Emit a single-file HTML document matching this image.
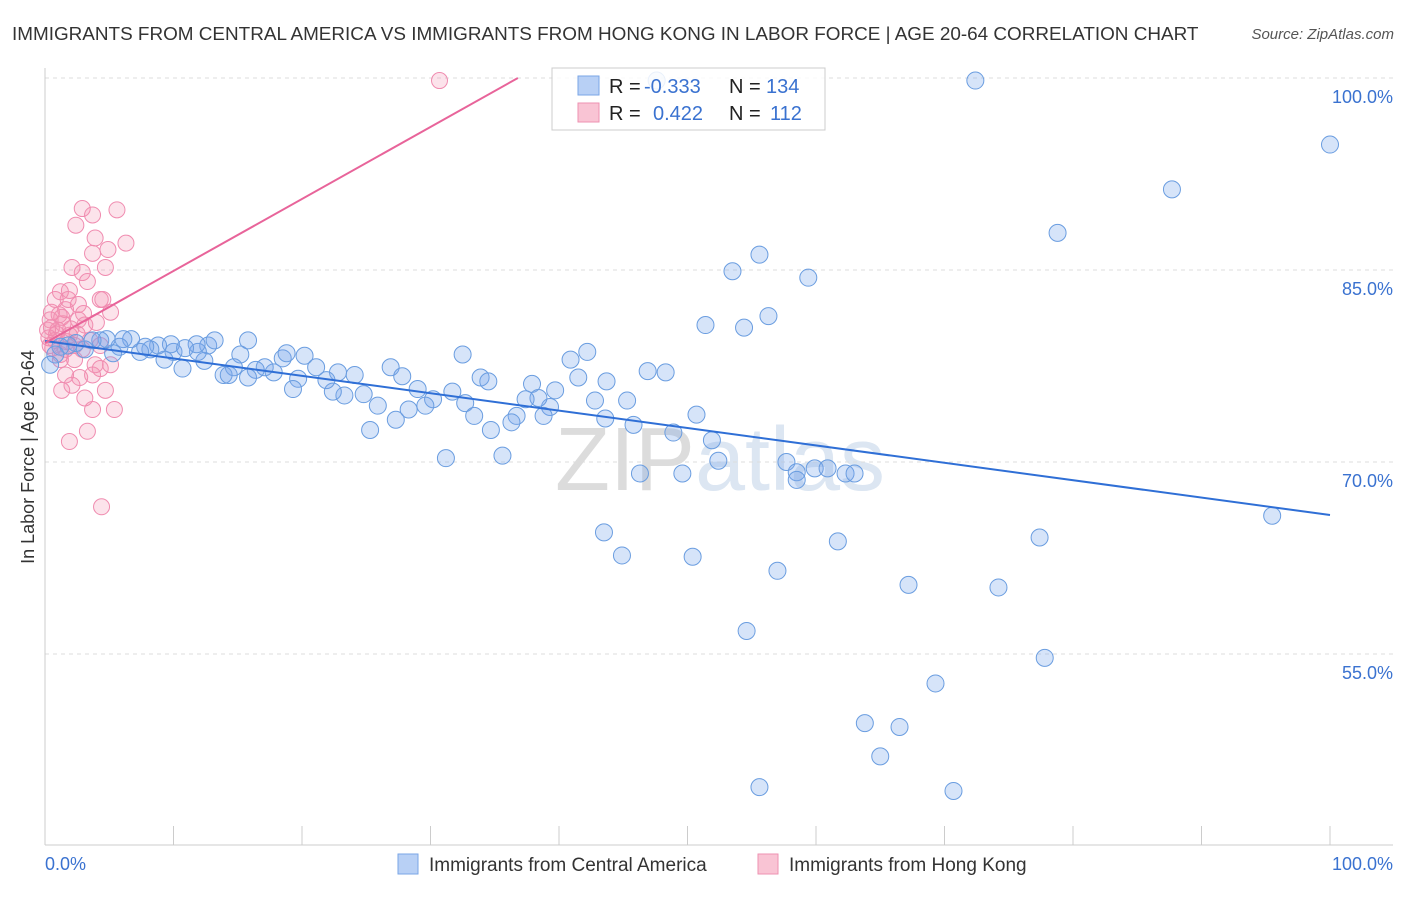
<!DOCTYPE html>
<html><head><meta charset="utf-8"><style>
body{margin:0;background:#fff;font-family:"Liberation Sans",sans-serif;}
svg text{font-family:"Liberation Sans",sans-serif;}
</style></head><body>
<svg id="chart" width="1406" height="892" xmlns="http://www.w3.org/2000/svg">
<text x="12" y="40" font-size="18.9" fill="#333">IMMIGRANTS FROM CENTRAL AMERICA VS IMMIGRANTS FROM HONG KONG IN LABOR FORCE | AGE 20-64 CORRELATION CHART</text>
<text x="1394" y="39" font-size="15" fill="#555" font-style="italic" text-anchor="end">Source: ZipAtlas.com</text>
<text x="720" y="490" font-size="90" fill="#e6e6e6" text-anchor="middle" font-family="Liberation Serif"><tspan fill="#dcdcdc">ZIP</tspan><tspan fill="#dce6f2" font-family="Liberation Sans">atlas</tspan></text>
<g id="grid"></g>
<g id="axes"></g>
<g id="pink"></g>
<g id="blue"></g>
<g id="trends"></g>
<text transform="translate(34,457) rotate(-90)" font-size="18" fill="#333" text-anchor="middle">In Labor Force | Age 20-64</text>
<g>
<rect x="552" y="68" width="273" height="62" fill="#fff" fill-opacity="0.85" stroke="#ccc"/>
<rect x="578" y="76" width="21" height="19" fill="#b8d0f5" stroke="#7aa6e6"/>
<rect x="578" y="103" width="21" height="19" fill="#f9c4d4" stroke="#ee92b2"/>
<text x="609" y="93" font-size="20" fill="#222">R = <tspan fill="#3a72d0" x="644">-0.333</tspan><tspan fill="#222" x="729">N = </tspan><tspan fill="#3a72d0" x="766">134</tspan></text>
<text x="609" y="120" font-size="20" fill="#222">R = <tspan fill="#3a72d0" x="653">0.422</tspan><tspan fill="#222" x="729">N = </tspan><tspan fill="#3a72d0" x="770">112</tspan></text>
</g>
<g>
<rect x="398" y="854" width="20" height="20" fill="#b8d0f5" stroke="#7aa6e6"/>
<text x="429" y="871" font-size="19" fill="#333">Immigrants from Central America</text>
<rect x="758" y="854" width="20" height="20" fill="#f9c4d4" stroke="#ee92b2"/>
<text x="789" y="871" font-size="19" fill="#333">Immigrants from Hong Kong</text>
</g>
</svg>
<script>
const yTicks=[100,85,70,55];
const yTickLabels=["100.0%","85.0%","70.0%","55.0%"];
const xTicks=[0,10,20,30,40,50,60,70,80,90,100];
const xEndLabels=["0.0%","100.0%"];
const blueX=[100,72.4,47.6,87.7,78.8,55.6,53.5,59.4,51.4,54.4,56.3,95.5,77.4,61.7,43.5,44.9,50.4,57.0,67.2,74.2,54.6,77.8,69.3,63.8,66.5,65.0,55.6,70.7,57.7,58.5,58.5,59.9,60.9,62.3,63.0,52.4,49.6,46.3,51.9,48.9,50.7,45.8,45.3,43.6,42.8,42.2,40.9,41.5,43.7,46.9,48.3,39.7,39.3,37.9,38.4,37.4,38.8,36.7,36.3,34.7,35.6,31.2,32.5,33.9,34.5,31.7,32.7,33.4,30.2,29.6,29.0,28.3,27.3,26.9,27.8,25.9,25.3,24.8,24.1,23.3,22.4,22.8,21.9,21.1,20.2,19.7,19.3,18.5,18.8,17.8,17.1,16.4,15.8,15.2,14.7,13.9,14.3,12.4,12.7,13.2,11.9,11.8,10.7,10.0,9.8,9.3,8.8,8.2,7.8,7.4,6.7,6.1,5.8,5.3,4.8,4.3,3.7,3.1,2.4,1.8,1.2,0.8,0.4,15.8,10.9];
const blueY=[94.8,99.8,99.8,91.3,87.9,86.2,84.9,84.4,80.7,80.5,81.4,65.8,64.1,63.8,64.5,62.7,62.6,61.5,60.4,60.2,56.8,54.7,52.7,49.6,49.3,47.0,44.6,44.3,70.0,69.2,68.6,69.5,69.5,69.1,69.1,70.1,69.1,69.1,71.7,72.3,73.7,72.9,74.8,73.4,74.8,78.6,78.0,76.6,76.3,77.1,77.0,75.6,74.3,76.1,75.0,74.9,73.6,73.6,73.1,72.5,70.5,70.3,78.4,76.6,76.3,75.5,74.6,73.6,74.9,74.4,75.7,74.1,73.3,77.4,76.7,74.4,72.5,75.3,76.8,75.2,75.5,77.0,76.4,77.4,78.3,76.5,75.7,78.1,78.5,77.0,77.4,77.2,76.6,78.4,77.4,76.8,76.8,77.9,79.1,79.5,78.6,79.2,77.3,78.6,79.2,78.0,79.1,78.8,79.0,78.6,79.6,79.6,79.0,78.5,79.6,79.5,79.5,78.8,79.3,79.1,79.0,78.4,77.6,79.5,78.9];
const pinkX=[30.7,4.4,1.9,3.3,5.4,3.7,5.6,2.9,3.7,2.4,6.3,3.9,4.9,3.7,2.1,4.7,2.9,1.2,1.9,3.3,4.3,5.1,0.8,1.6,2.6,3.1,0.4,1.0,1.9,3.5,4.3,0.4,1.2,2.3,3.9,4.3,5.1,1.6,2.7,2.1,4.7,1.3,3.1,3.7,0.2,0.5,0.8,1.3,1.8,2.3,2.9,2.6,4.0,4.5,1.2,1.6,0.5,0.9,1.4,2.0,1.1,0.3,2.5,1.7,3.0,0.6];
const pinkY=[99.8,66.5,71.6,72.4,74.1,74.1,89.7,89.8,89.3,88.5,87.1,87.5,86.6,86.3,85.2,85.2,84.8,83.3,83.4,84.1,82.7,81.7,82.7,81.9,81.1,80.7,81.1,80.3,79.9,79.5,79.1,79.1,78.4,78.0,77.6,77.3,77.6,76.8,76.6,76.0,75.6,75.6,75.0,76.8,80.3,81.7,79.5,81.3,82.7,79.1,78.8,82.3,80.9,82.7,78.0,78.8,80.5,80.0,80.8,80.4,81.5,79.7,80.0,79.4,81.6,78.9];
const blueTrend=[[0,79.45],[100,65.86]];
const pinkTrend=[[0,79.3],[36.8,100]];
const NS='http://www.w3.org/2000/svg';
const sx=v=>45+v*12.85;
const sy=v=>78+(100-v)*12.8;
function mk(tag,attrs,parent){const e=document.createElementNS(NS,tag);for(const k in attrs)e.setAttribute(k,attrs[k]);parent.appendChild(e);return e;}
const grid=document.getElementById('grid'),axes=document.getElementById('axes');
yTicks.forEach((t,i)=>{
  const l=mk('line',{x1:45,x2:1393,y1:sy(t),y2:sy(t),stroke:'#ddd','stroke-dasharray':'4,4'},grid);
  
  
  const tx=mk('text',{x:1393,y:sy(t)+25,'font-size':18,fill:'#3a72d0','text-anchor':'end'},axes);
  tx.textContent=yTickLabels[i];
  
  
});
const yl=mk('line',{x1:45,x2:45,y1:68,y2:845,stroke:'#ccc'},axes);


const xl=mk('line',{x1:45,x2:1393,y1:845,y2:845,stroke:'#ccc'},axes);


xTicks.forEach(t=>{
  const l=mk('line',{x1:sx(t),x2:sx(t),y1:826,y2:845,stroke:'#ccc'},axes);
  
  
});
const x0=mk('text',{x:45,y:870,'font-size':18,fill:'#3a72d0'},axes);x0.textContent=xEndLabels[0];


const x1=mk('text',{x:1393,y:870,'font-size':18,fill:'#3a72d0','text-anchor':'end'},axes);x1.textContent=xEndLabels[1];


const pg=document.getElementById('pink');
pinkX.forEach((v,i)=>{
  const c=mk('circle',{cx:sx(v),cy:sy(pinkY[i]),r:8,fill:'rgba(244,143,177,0.25)',stroke:'#f08cb0','stroke-width':1},pg);
  
  
});
const bg=document.getElementById('blue');
blueX.forEach((v,i)=>{
  const c=mk('circle',{cx:sx(v),cy:sy(blueY[i]),r:8.5,fill:'rgba(120,165,235,0.3)',stroke:'#6a9de0','stroke-width':1},bg);
  
  
});
const tg=document.getElementById('trends');
const bt=mk('line',{x1:sx(blueTrend[0][0]),y1:sy(blueTrend[0][1]),x2:sx(blueTrend[1][0]),y2:sy(blueTrend[1][1]),stroke:'#2f6fd6','stroke-width':2},tg);


const pt=mk('line',{x1:sx(pinkTrend[0][0]),y1:sy(pinkTrend[0][1]),x2:sx(pinkTrend[1][0]),y2:sy(pinkTrend[1][1]),stroke:'#e8649a','stroke-width':2},tg);


</script>
</body></html>
